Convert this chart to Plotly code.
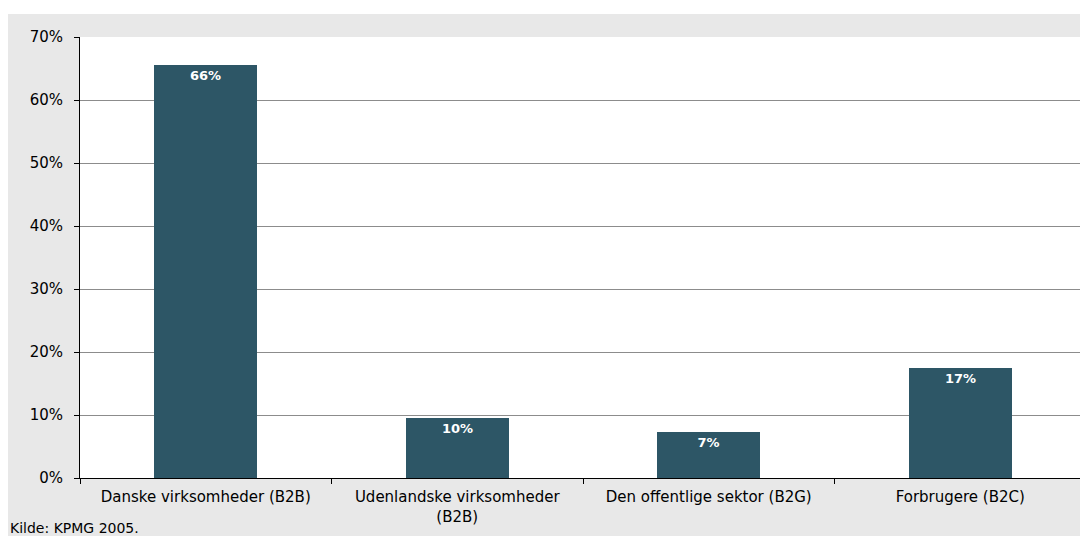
import plotly.graph_objects as go

categories = [
    "Danske virksomheder (B2B)",
    "Udenlandske virksomheder<br>(B2B)",
    "Den offentlige sektor (B2G)",
    "Forbrugere (B2C)",
]
shares = [0.656, 0.096, 0.073, 0.174]
source_note = "Kilde: KPMG 2005."

BAR_COLOR = "#2D5666"
BG_GRAY = "#E8E8E8"
FONT = "DejaVu Sans"

# the page keeps its default 8px body margin, which gives the white
# strip on the left and most of the one on top
fig = go.Figure()
fig.add_trace(
    go.Bar(
        x=categories,
        y=shares,
        width=0.41,
        marker={"color": BAR_COLOR, "line": {"width": 0}},
        texttemplate="%{y:.0%}",
        textposition="inside",
        insidetextanchor="end",
        textfont={"family": FONT, "size": 13, "color": "white", "weight": "bold"},
        hoverinfo="skip",
    )
)

fig.update_layout(
    width=1080,
    height=528,
    paper_bgcolor=BG_GRAY,
    plot_bgcolor="white",
    margin={"l": 72, "r": 2, "t": 29, "b": 58},
    font={"family": FONT, "size": 15, "color": "#000000"},
    showlegend=False,
    bargap=0,
    annotations=[
        {
            "text": source_note,
            "xref": "paper",
            "yref": "paper",
            "x": -0.0716,
            "y": -0.113,
            "xanchor": "left",
            "yanchor": "middle",
            "showarrow": False,
            "font": {"family": FONT, "size": 14},
        }
    ],
    shapes=[
        # white strip above the grey chart area
        {"type": "rect", "xref": "paper", "yref": "paper",
         "x0": -0.1, "x1": 1.01, "y0": 1.052, "y1": 1.2,
         "fillcolor": "white", "line": {"width": 0}},
        # right border of the plot area
        {"type": "line", "xref": "paper", "yref": "paper",
         "x0": 1, "x1": 1, "y0": 0, "y1": 1,
         "line": {"color": "#A0A0A0", "width": 2}},
    ],
)

fig.update_yaxes(
    range=[0, 0.7],
    dtick=0.1,
    tickformat=".0%",
    showgrid=True,
    gridcolor="#8C8C8C",
    gridwidth=1,
    showline=True,
    linecolor="black",
    linewidth=1,
    ticks="outside",
    ticklen=5,
    tickcolor="black",
    ticklabelstandoff=8,
    zeroline=False,
)
fig.update_xaxes(
    showline=True,
    linecolor="black",
    linewidth=1,
    ticks="outside",
    tickson="boundaries",
    ticklen=5,
    tickcolor="black",
    ticklabelstandoff=5,
    showgrid=False,
)

fig.write_html("out.html")
